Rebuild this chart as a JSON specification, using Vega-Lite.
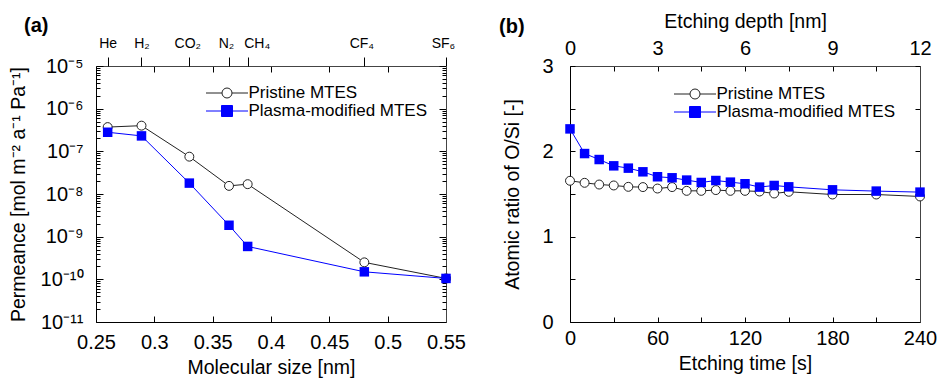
{
  "$schema": "https://vega.github.io/schema/vega-lite/v6.json",
  "padding": {"left": 8, "top": 11, "right": 5, "bottom": 3},
  "bounds": "flush",
  "spacing": 124,
  "config": {
    "font": "Liberation Sans",
    "view": {"stroke": null},
    "axis": {"grid": false, "labelColor": "#000", "titleColor": "#000", "domainColor": "#000", "tickColor": "#000", "titleFontWeight": "normal", "labelFontSize": 20, "titleFontSize": 19.5, "labelFont": "Liberation Sans", "titleFont": "Liberation Sans", "labelFlush": false, "labelOverlap": false},
    "title": {"fontSize": 20, "fontWeight": "bold", "font": "Liberation Sans", "color": "#000"}
  },
  "resolve": {"scale": {"color": "independent"}, "legend": {"color": "independent"}},
  "datasets": {
    "perm": [
      {"series": "Pristine MTES", "gas": "He", "size": 0.26, "value": 3.7e-7},
      {"series": "Pristine MTES", "gas": "H2", "size": 0.289, "value": 4.0e-7},
      {"series": "Pristine MTES", "gas": "CO2", "size": 0.33, "value": 7.5e-8},
      {"series": "Pristine MTES", "gas": "N2", "size": 0.364, "value": 1.55e-8},
      {"series": "Pristine MTES", "gas": "CH4", "size": 0.38, "value": 1.7e-8},
      {"series": "Pristine MTES", "gas": "CF4", "size": 0.48, "value": 2.5e-10},
      {"series": "Pristine MTES", "gas": "SF6", "size": 0.55, "value": 1.05e-10},
      {"series": "Plasma-modified MTES", "gas": "He", "size": 0.26, "value": 2.8e-7},
      {"series": "Plasma-modified MTES", "gas": "H2", "size": 0.289, "value": 2.3e-7},
      {"series": "Plasma-modified MTES", "gas": "CO2", "size": 0.33, "value": 1.8e-8},
      {"series": "Plasma-modified MTES", "gas": "N2", "size": 0.364, "value": 1.85e-9},
      {"series": "Plasma-modified MTES", "gas": "CH4", "size": 0.38, "value": 5.9e-10},
      {"series": "Plasma-modified MTES", "gas": "CF4", "size": 0.48, "value": 1.5e-10},
      {"series": "Plasma-modified MTES", "gas": "SF6", "size": 0.55, "value": 1.05e-10}
    ],
    "ratio": [
      {"series": "Pristine MTES", "time": 0, "value": 1.655},
      {"series": "Pristine MTES", "time": 10, "value": 1.631},
      {"series": "Pristine MTES", "time": 20, "value": 1.611},
      {"series": "Pristine MTES", "time": 30, "value": 1.6},
      {"series": "Pristine MTES", "time": 40, "value": 1.584},
      {"series": "Pristine MTES", "time": 50, "value": 1.581},
      {"series": "Pristine MTES", "time": 60, "value": 1.564},
      {"series": "Pristine MTES", "time": 70, "value": 1.581},
      {"series": "Pristine MTES", "time": 80, "value": 1.537},
      {"series": "Pristine MTES", "time": 90, "value": 1.537},
      {"series": "Pristine MTES", "time": 100, "value": 1.546},
      {"series": "Pristine MTES", "time": 110, "value": 1.537},
      {"series": "Pristine MTES", "time": 120, "value": 1.537},
      {"series": "Pristine MTES", "time": 130, "value": 1.529},
      {"series": "Pristine MTES", "time": 140, "value": 1.506},
      {"series": "Pristine MTES", "time": 150, "value": 1.526},
      {"series": "Pristine MTES", "time": 180, "value": 1.494},
      {"series": "Pristine MTES", "time": 210, "value": 1.494},
      {"series": "Pristine MTES", "time": 240, "value": 1.471},
      {"series": "Plasma-modified MTES", "time": 0, "value": 2.263},
      {"series": "Plasma-modified MTES", "time": 10, "value": 1.974},
      {"series": "Plasma-modified MTES", "time": 20, "value": 1.904},
      {"series": "Plasma-modified MTES", "time": 30, "value": 1.83},
      {"series": "Plasma-modified MTES", "time": 40, "value": 1.803},
      {"series": "Plasma-modified MTES", "time": 50, "value": 1.76},
      {"series": "Plasma-modified MTES", "time": 60, "value": 1.702},
      {"series": "Plasma-modified MTES", "time": 70, "value": 1.69},
      {"series": "Plasma-modified MTES", "time": 80, "value": 1.663},
      {"series": "Plasma-modified MTES", "time": 90, "value": 1.635},
      {"series": "Plasma-modified MTES", "time": 100, "value": 1.658},
      {"series": "Plasma-modified MTES", "time": 110, "value": 1.639},
      {"series": "Plasma-modified MTES", "time": 120, "value": 1.62},
      {"series": "Plasma-modified MTES", "time": 130, "value": 1.581},
      {"series": "Plasma-modified MTES", "time": 140, "value": 1.6},
      {"series": "Plasma-modified MTES", "time": 150, "value": 1.584},
      {"series": "Plasma-modified MTES", "time": 180, "value": 1.549},
      {"series": "Plasma-modified MTES", "time": 210, "value": 1.534},
      {"series": "Plasma-modified MTES", "time": 240, "value": 1.522}
    ]
  },
  "hconcat": [
    {
      "width": 350,
      "height": 256,
      "title": {"text": "(a)", "anchor": "start", "frame": "group", "dx": -72, "dy": 4},
      "data": {"name": "perm"},
      "resolve": {"axis": {"x": "independent", "y": "independent"}},
      "layer": [
        {
          "transform": [{"filter": "datum.series == 'Pristine MTES'"}],
          "mark": {"type": "line", "strokeWidth": 1},
          "encoding": {
            "x": {"field": "size", "type": "quantitative", "scale": {"domain": [0.25, 0.55], "nice": false, "zero": false},
              "axis": {"orient": "bottom", "values": [0.25, 0.3, 0.35, 0.4, 0.45, 0.5, 0.55], "format": "~g", "tickSize": -6, "labelPadding": 16, "title": "Molecular size [nm]", "titlePadding": 6}},
            "y": {"field": "value", "type": "quantitative", "scale": {"type": "log", "domain": [1e-11, 1e-5], "nice": false},
              "axis": {"orient": "left", "values": [1e-11, 1e-10, 1e-9, 1e-8, 1e-7, 1e-6, 1e-5], "labelExpr": "'10' + ['⁻¹¹','⁻¹⁰','⁻⁹','⁻⁸','⁻⁷','⁻⁶','⁻⁵'][round(log(datum.value)/LN10) + 11]", "tickSize": -7, "labelPadding": 20, "title": "Permeance [mol m⁻² a⁻¹ Pa⁻¹]", "titlePadding": 12}},
            "color": {"field": "series", "type": "nominal", "scale": {"domain": ["Pristine MTES", "Plasma-modified MTES"], "range": ["#222222", "#0000ff"]},
              "legend": {"orient": "none", "legendX": 122.5, "legendY": 18.5, "title": null, "labelFontSize": 17, "labelOffset": 13, "labelLimit": 0, "padding": 0, "rowPadding": 0, "symbolSize": 100, "symbolStrokeWidth": 1, "labelColor": "#000",
                "encode": {"symbols": {"update": {
                  "shape": {"signal": "datum.value == 'Pristine MTES' ? 'M-4.2,0H-1M1,0H4.2M1,0A1,1 0 1,1 -1,0A1,1 0 1,1 1,0' : 'M-4.2,0H-1.1M1.1,0H4.2M-1.1,-1.1H1.1V1.1H-1.1Z'"},
                  "fill": {"signal": "datum.value == 'Pristine MTES' ? '#ffffff' : '#0000ff'"},
                  "stroke": {"signal": "datum.value == 'Pristine MTES' ? '#222222' : '#0000ff'"},
                  "strokeWidth": {"value": 1},
                  "size": {"value": 100},
                  "opacity": {"value": 1}
                }}}}}
          }
        },
        {
          "transform": [{"filter": "datum.series == 'Plasma-modified MTES'"}],
          "mark": {"type": "line", "strokeWidth": 1},
          "encoding": {
            "x": {"field": "size", "type": "quantitative",
              "axis": {"orient": "top", "values": [0.3, 0.35, 0.4, 0.45, 0.5], "labels": false, "tickSize": -6, "title": null, "domainColor": "#444444"}},
            "y": {"field": "value", "type": "quantitative",
              "axis": {"orient": "left", "values": [2e-11, 3e-11, 4e-11, 5e-11, 6e-11, 7e-11, 8e-11, 9e-11, 2e-10, 3e-10, 4e-10, 5e-10, 6e-10, 7e-10, 8e-10, 9e-10, 2e-9, 3e-9, 4e-9, 5e-9, 6e-9, 7e-9, 8e-9, 9e-9, 2e-8, 3e-8, 4e-8, 5e-8, 6e-8, 7e-8, 8e-8, 9e-8, 2e-7, 3e-7, 4e-7, 5e-7, 6e-7, 7e-7, 8e-7, 9e-7, 2e-6, 3e-6, 4e-6, 5e-6, 6e-6, 7e-6, 8e-6, 9e-6], "labels": false, "tickSize": -4, "domain": false, "title": null}},
            "color": {"field": "series", "type": "nominal"}
          }
        },
        {
          "transform": [{"filter": "datum.series == 'Pristine MTES'"}],
          "mark": {"type": "point", "shape": "circle", "filled": true, "fill": "#ffffff", "stroke": "#222222", "strokeWidth": 1, "size": 80, "opacity": 1},
          "encoding": {
            "x": {"field": "size", "type": "quantitative",
              "axis": {"orient": "top", "values": [0.26, 0.289, 0.33, 0.364, 0.38, 0.48, 0.55], "labelExpr": "datum.value == 0.26 ? 'He' : datum.value == 0.289 ? 'H₂' : datum.value == 0.33 ? 'CO₂' : datum.value == 0.364 ? 'N₂' : datum.value == 0.38 ? 'CH₄' : datum.value == 0.48 ? 'CF₄' : 'SF₆'", "tickSize": 9, "domain": false, "labelFontSize": 14, "labelPadding": 7, "title": null,
                "labelAlign": {"condition": {"test": "datum.value == 0.38", "value": "left"}, "value": "center"},
                "labelOffset": {"condition": [{"test": "datum.value == 0.38", "value": -4}, {"test": "datum.value == 0.364", "value": -3}, {"test": "datum.value >= 0.48", "value": -3}, {"test": "datum.value == 0.33", "value": -2}], "value": 0}}},
            "y": {"field": "value", "type": "quantitative",
              "axis": {"orient": "right", "values": [1e-11, 1e-10, 1e-9, 1e-8, 1e-7, 1e-6, 1e-5], "labels": false, "tickSize": -7, "title": null, "domainColor": "#444444"}}
          }
        },
        {
          "transform": [{"filter": "datum.series == 'Plasma-modified MTES'"}],
          "mark": {"type": "square", "size": 90, "color": "#0000ff", "opacity": 1},
          "encoding": {
            "x": {"field": "size", "type": "quantitative", "axis": null},
            "y": {"field": "value", "type": "quantitative",
              "axis": {"orient": "right", "values": [2e-11, 3e-11, 4e-11, 5e-11, 6e-11, 7e-11, 8e-11, 9e-11, 2e-10, 3e-10, 4e-10, 5e-10, 6e-10, 7e-10, 8e-10, 9e-10, 2e-9, 3e-9, 4e-9, 5e-9, 6e-9, 7e-9, 8e-9, 9e-9, 2e-8, 3e-8, 4e-8, 5e-8, 6e-8, 7e-8, 8e-8, 9e-8, 2e-7, 3e-7, 4e-7, 5e-7, 6e-7, 7e-7, 8e-7, 9e-7, 2e-6, 3e-6, 4e-6, 5e-6, 6e-6, 7e-6, 8e-6, 9e-6], "labels": false, "tickSize": -4, "domain": false, "title": null}}
          }
        }
      ]
    },
    {
      "width": 350,
      "height": 256,
      "title": {"text": "(b)", "anchor": "start", "frame": "group", "dx": -71, "offset": -26},
      "data": {"name": "ratio"},
      "resolve": {"axis": {"x": "independent", "y": "independent"}},
      "layer": [
        {
          "transform": [{"filter": "datum.series == 'Pristine MTES'"}],
          "mark": {"type": "line", "strokeWidth": 1},
          "encoding": {
            "x": {"field": "time", "type": "quantitative", "scale": {"domain": [0, 240], "nice": false, "zero": false},
              "axis": {"orient": "bottom", "values": [0, 30, 60, 90, 120, 150, 180, 210, 240], "labelExpr": "datum.value % 60 == 0 ? datum.label : ''", "tickSize": -5, "labelPadding": 11.5, "title": "Etching time [s]", "titlePadding": 6}},
            "y": {"field": "value", "type": "quantitative", "scale": {"domain": [0, 3], "nice": false, "zero": false},
              "axis": {"orient": "left", "values": [0, 0.5, 1, 1.5, 2, 2.5, 3], "labelExpr": "datum.value % 1 == 0 ? format(datum.value, 'd') : ''", "tickSize": -5, "labelPadding": 22, "title": "Atomic ratio of O/Si [-]", "titlePadding": 19}},
            "color": {"field": "series", "type": "nominal", "scale": {"domain": ["Pristine MTES", "Plasma-modified MTES"], "range": ["#222222", "#0000ff"]},
              "legend": {"orient": "none", "legendX": 116.5, "legendY": 19.5, "title": null, "labelFontSize": 17, "labelOffset": 13, "labelLimit": 0, "padding": 0, "rowPadding": 0, "symbolSize": 100, "symbolStrokeWidth": 1, "labelColor": "#000",
                "encode": {"symbols": {"update": {
                  "shape": {"signal": "datum.value == 'Pristine MTES' ? 'M-4.2,0H-1M1,0H4.2M1,0A1,1 0 1,1 -1,0A1,1 0 1,1 1,0' : 'M-4.2,0H-1.1M1.1,0H4.2M-1.1,-1.1H1.1V1.1H-1.1Z'"},
                  "fill": {"signal": "datum.value == 'Pristine MTES' ? '#ffffff' : '#0000ff'"},
                  "stroke": {"signal": "datum.value == 'Pristine MTES' ? '#222222' : '#0000ff'"},
                  "strokeWidth": {"value": 1},
                  "size": {"value": 100},
                  "opacity": {"value": 1}
                }}}}}
          }
        },
        {
          "transform": [{"filter": "datum.series == 'Plasma-modified MTES'"}],
          "mark": {"type": "line", "strokeWidth": 1},
          "encoding": {
            "x": {"field": "time", "type": "quantitative",
              "axis": {"orient": "top", "values": [0, 30, 60, 90, 120, 150, 180, 210, 240], "labelExpr": "datum.value % 60 == 0 ? format(datum.value / 20, 'd') : ''", "tickSize": -5, "labelPadding": 13, "title": "Etching depth [nm]", "titlePadding": 7, "domainColor": "#444444"}},
            "y": {"field": "value", "type": "quantitative",
              "axis": {"orient": "right", "values": [0, 0.5, 1, 1.5, 2, 2.5, 3], "labels": false, "tickSize": -5, "title": null, "domainColor": "#444444"}},
            "color": {"field": "series", "type": "nominal"}
          }
        },
        {
          "transform": [{"filter": "datum.series == 'Pristine MTES'"}],
          "mark": {"type": "point", "shape": "circle", "filled": true, "fill": "#ffffff", "stroke": "#222222", "strokeWidth": 1, "size": 80, "opacity": 1},
          "encoding": {
            "x": {"field": "time", "type": "quantitative", "axis": null},
            "y": {"field": "value", "type": "quantitative", "axis": null}
          }
        },
        {
          "transform": [{"filter": "datum.series == 'Plasma-modified MTES'"}],
          "mark": {"type": "square", "size": 90, "color": "#0000ff", "opacity": 1},
          "encoding": {
            "x": {"field": "time", "type": "quantitative", "axis": null},
            "y": {"field": "value", "type": "quantitative", "axis": null}
          }
        }
      ]
    }
  ]
}
